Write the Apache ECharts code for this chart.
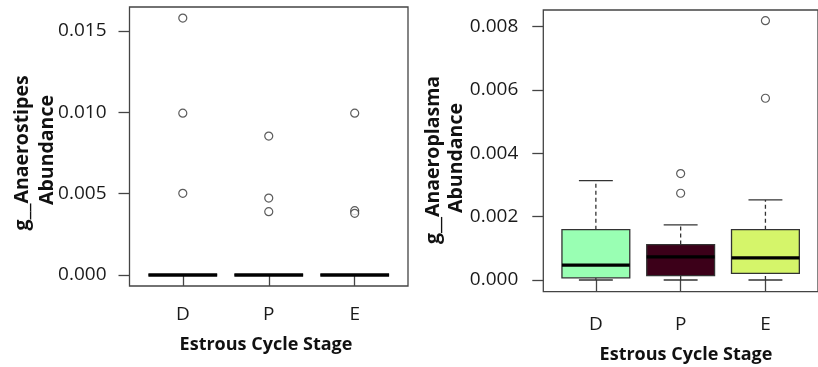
<!DOCTYPE html>
<html>
<head>
<meta charset="utf-8">
<script src="https://cdn.jsdelivr.net/npm/echarts@6/dist/echarts.min.js"></script>
<style>
  html, body { margin: 0; padding: 0; background: #fff; }
  #chart { width: 818px; height: 367px; }
</style>
</head>
<body>
<div id="chart"></div>
<script>
// Estrous cycle stages on the x axis
const stages = ['D', 'P', 'E'];
const stageColors = ['#99FFB3', '#3C0019', '#D5F56A'];

// g__Anaerostipes: [lowWhisker, q1, median, q3, highWhisker] per stage
const anaerostipesD = [0, 0, 0, 0, 0];
const anaerostipesP = [0, 0, 0, 0, 0];
const anaerostipesE = [0, 0, 0, 0, 0];
const anaerostipesOutD = [0.0158, 0.00995, 0.00502];
const anaerostipesOutP = [0.00854, 0.00473, 0.00389];
const anaerostipesOutE = [0.00995, 0.00395, 0.00379];
const anaerostipesTicks = [0, 0.005, 0.010, 0.015];

// g__Anaeroplasma: [lowWhisker, q1, median, q3, highWhisker] per stage
const anaeroplasmaD = [0, 0.00007, 0.00047, 0.00159, 0.00314];
const anaeroplasmaP = [0, 0.00014, 0.00073, 0.00112, 0.00174];
const anaeroplasmaE = [0, 0.00021, 0.00070, 0.00159, 0.00253];
const anaeroplasmaOutD = [];
const anaeroplasmaOutP = [0.00336, 0.00274];
const anaeroplasmaOutE = [0.00819, 0.00574];
const anaeroplasmaTicks = [0, 0.002, 0.004, 0.006, 0.008];

const tickFont = '"Open Sans", "Liberation Sans", sans-serif';
const xTitleFont = 'bold 18px "Open Sans", "Liberation Sans", sans-serif';
const yTitleFont = 'bold 19.5px "Open Sans", "Liberation Sans", sans-serif';

function boxRows(stats) {
  return stats.map((s, i) => [i + 1].concat(s));
}
function outlierRows(lists) {
  const rows = [];
  lists.forEach((vals, i) => vals.forEach(v => rows.push([i + 1, v])));
  return rows;
}

// Box-and-whisker glyph: dashed whiskers, staples, filled box, thick median
function renderBox(params, api) {
  const x = api.value(0);
  const lo = api.coord([x, api.value(1)]);
  const q1 = api.coord([x, api.value(2)]);
  const med = api.coord([x, api.value(3)]);
  const q3 = api.coord([x, api.value(4)]);
  const hi = api.coord([x, api.value(5)]);
  const w = api.size([0.8, 0])[0];
  const cx = lo[0];
  const half = w / 2;
  const cap = w / 4;
  const line = '#333';
  return {
    type: 'group',
    children: [
      { type: 'line', shape: { x1: cx, y1: q3[1], x2: cx, y2: hi[1] },
        style: { stroke: line, lineWidth: 1.3, lineDash: [4, 3] } },
      { type: 'line', shape: { x1: cx, y1: lo[1], x2: cx, y2: q1[1] },
        style: { stroke: line, lineWidth: 1.3, lineDash: [4, 3] } },
      { type: 'line', shape: { x1: cx - cap, y1: hi[1], x2: cx + cap, y2: hi[1] },
        style: { stroke: line, lineWidth: 1.3 } },
      { type: 'line', shape: { x1: cx - cap, y1: lo[1], x2: cx + cap, y2: lo[1] },
        style: { stroke: line, lineWidth: 1.3 } },
      { type: 'rect', shape: { x: cx - half, y: q3[1], width: w, height: q1[1] - q3[1] },
        style: { fill: stageColors[x - 1], stroke: line, lineWidth: 1.3 } },
      { type: 'line', shape: { x1: cx - half, y1: med[1], x2: cx + half, y2: med[1] },
        style: { stroke: '#000', lineWidth: 3.4 } }
    ]
  };
}

function xAxisFor(gridIndex, margin) {
  return {
    gridIndex: gridIndex, type: 'value', min: 0.38, max: 3.62,
    splitLine: { show: false },
    axisLine: { show: false },
    axisTick: { show: true, inside: false, length: 11, customValues: [1, 2, 3],
      lineStyle: { color: '#444', width: 1.3 } },
    axisLabel: { customValues: [1, 2, 3], margin: margin,
      formatter: v => stages[Math.round(v) - 1],
      fontFamily: tickFont, fontSize: 19, color: '#1a1a1a' }
  };
}
function yAxisFor(gridIndex, min, max, ticks, margin) {
  return {
    gridIndex: gridIndex, type: 'value', min: min, max: max,
    splitLine: { show: false },
    axisLine: { show: false },
    axisTick: { show: true, inside: false, length: 11, customValues: ticks,
      lineStyle: { color: '#444', width: 1.3 } },
    axisLabel: { customValues: ticks, margin: margin,
      formatter: v => v.toFixed(3),
      fontFamily: tickFont, fontSize: 19, color: '#1a1a1a' }
  };
}

const outlierStyle = { color: '#fff', borderColor: '#333', borderWidth: 1.2 };

const chart = echarts.init(document.getElementById('chart'), null, { renderer: 'canvas' });
chart.setOption({
  animation: false,
  backgroundColor: '#fff',
  grid: [
    { left: 129.5, top: 7, width: 278.5, height: 279, show: true,
      borderColor: '#444', borderWidth: 1.3, backgroundColor: 'transparent' },
    { left: 543.3, top: 10, width: 285.4, height: 281.7, show: true,
      borderColor: '#444', borderWidth: 1.3, backgroundColor: 'transparent' }
  ],
  xAxis: [xAxisFor(0, 19), xAxisFor(1, 23)],
  yAxis: [
    yAxisFor(0, -0.00068, 0.01648, anaerostipesTicks, 23),
    yAxisFor(1, -0.000369, 0.008526, anaeroplasmaTicks, 25)
  ],
  series: [
    { type: 'custom', xAxisIndex: 0, yAxisIndex: 0, renderItem: renderBox,
      data: boxRows([anaerostipesD, anaerostipesP, anaerostipesE]), z: 2 },
    { type: 'scatter', xAxisIndex: 0, yAxisIndex: 0, symbol: 'circle', symbolSize: 8,
      itemStyle: outlierStyle, z: 3,
      data: outlierRows([anaerostipesOutD, anaerostipesOutP, anaerostipesOutE]) },
    { type: 'custom', xAxisIndex: 1, yAxisIndex: 1, renderItem: renderBox,
      data: boxRows([anaeroplasmaD, anaeroplasmaP, anaeroplasmaE]), z: 2 },
    { type: 'scatter', xAxisIndex: 1, yAxisIndex: 1, symbol: 'circle', symbolSize: 8,
      itemStyle: outlierStyle, z: 3,
      data: outlierRows([anaeroplasmaOutD, anaeroplasmaOutP, anaeroplasmaOutE]) }
  ],
  graphic: [
    { type: 'text', x: 266, y: 345, style: { text: 'Estrous Cycle Stage', font: xTitleFont,
      fill: '#111', textAlign: 'center', textVerticalAlign: 'middle' } },
    { type: 'text', x: 686, y: 355, style: { text: 'Estrous Cycle Stage', font: xTitleFont,
      fill: '#111', textAlign: 'center', textVerticalAlign: 'middle' } },
    { type: 'text', x: 22, y: 153, rotation: Math.PI / 2, style: { text: 'g__Anaerostipes',
      font: yTitleFont, fill: '#111', textAlign: 'center', textVerticalAlign: 'middle' } },
    { type: 'text', x: 47, y: 150, rotation: Math.PI / 2, style: { text: 'Abundance',
      font: yTitleFont, fill: '#111', textAlign: 'center', textVerticalAlign: 'middle' } },
    { type: 'text', x: 433, y: 160, rotation: Math.PI / 2, style: { text: 'g__Anaeroplasma',
      font: yTitleFont, fill: '#111', textAlign: 'center', textVerticalAlign: 'middle' } },
    { type: 'text', x: 456, y: 158, rotation: Math.PI / 2, style: { text: 'Abundance',
      font: yTitleFont, fill: '#111', textAlign: 'center', textVerticalAlign: 'middle' } }
  ]
});
</script>
</body>
</html>
